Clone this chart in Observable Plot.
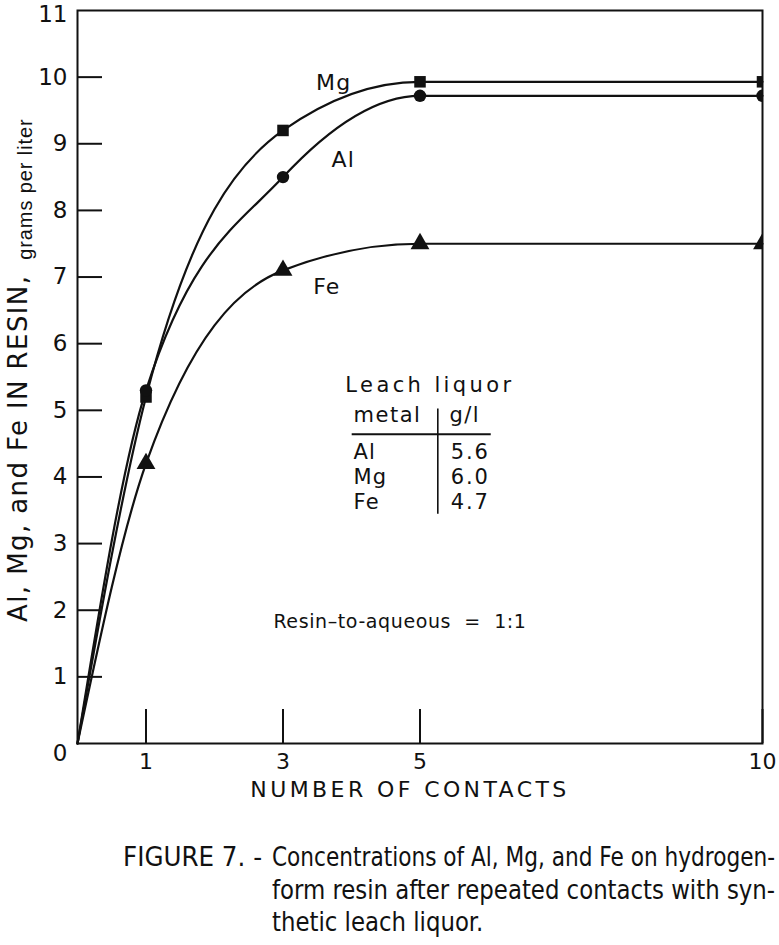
<!DOCTYPE html>
<html>
<head>
<meta charset="utf-8">
<script src="https://cdn.jsdelivr.net/npm/d3@7"></script>
<script src="https://cdn.jsdelivr.net/npm/@observablehq/plot@0.6"></script>
<style>
  html, body { margin: 0; padding: 0; background: #fff; }
  #page { position: relative; width: 779px; height: 945px; overflow: hidden; background: #fff; }
  #chart { position: absolute; left: 0; top: 0; }
  .cap { position: absolute; white-space: nowrap; font-family: "Liberation Sans Narrow", "DejaVu Sans Condensed", "Liberation Sans", sans-serif; font-size: 26px; line-height: 32px; color: #111; transform-origin: 0 50%; }
</style>
</head>
<body>
<div id="page"><div id="chart"></div></div>
<script>
// ---- data ----
const contacts = [0, 1, 3, 5, 10];
const mgValues = [0, 5.2, 9.2, 9.93, 9.93];
const alValues = [0, 5.3, 8.5, 9.72, 9.72];
const feValues = [0, 4.2, 7.1, 7.5, 7.5];
const seriesNames = ["Mg", "Al", "Fe"];
const xTicks = [1, 3, 5, 10];
const yTicks = [1, 2, 3, 4, 5, 6, 7, 8, 9, 10];
const yTop = 11;
const tableMetals = ["Al", "Mg", "Fe"];
const tableConc = [5.6, 6.0, 4.7];
const yLabel = "Al, Mg, and Fe IN RESIN,";
const yLabelUnit = "grams per liter";
const xLabel = "NUMBER OF CONTACTS";
const ratioNote = "Resin\u2013to-aqueous  =  1:1";
const captionLead = "FIGURE 7. -";
const captionLines = [
  "Concentrations of Al, Mg, and Fe on hydrogen-",
  "form resin after repeated contacts with syn-",
  "thetic leach liquor."
];

// ---- derived tables ----
const valuesBy = {Mg: mgValues, Al: alValues, Fe: feValues};
const rows = seriesNames.flatMap(name => contacts.map((c, i) => ({metal: name, x: c, y: valuesBy[name][i]})));
const pts = rows.filter(d => d.x > 0);
const tableRows = tableMetals.map((m, i) => ({metal: m, conc: tableConc[i].toFixed(1), i}));

const font = "DejaVu Sans";
const plot = Plot.plot({
  width: 779,
  height: 810,
  marginLeft: 77,
  marginRight: 17,
  marginTop: 10,
  marginBottom: 67,
  style: {fontFamily: font, fontSize: "22px", background: "#fff", color: "#111", overflow: "visible"},
  x: {domain: [0, 10]},
  y: {domain: [0, yTop]},
  marks: [
    Plot.frame({stroke: "#111", strokeWidth: 2}),
    Plot.axisY(yTicks, {tickSize: -25, tickPadding: 35, strokeWidth: 2, fontSize: 23, tickFormat: d => String(d), label: null}),
    Plot.axisX(xTicks, {tickSize: -34, tickPadding: 44, strokeWidth: 2, fontSize: 22, tickFormat: d => String(d), label: null}),
    Plot.text(["0"], {x: 0, y: 0, text: d => d, textAnchor: "end", dx: -10, dy: 10, fontSize: 23}),
    Plot.text([String(yTop)], {x: 0, y: yTop, text: d => d, textAnchor: "end", dx: -10, dy: 4, fontSize: 23}),
    Plot.line(rows, {x: "x", y: "y", z: "metal", curve: "monotone-x", stroke: "#111", strokeWidth: 2.2}),
    Plot.dot(pts.filter(d => d.metal === "Mg"), {x: "x", y: "y", symbol: "square", fill: "#111", r: 6.5, clip: true}),
    Plot.dot(pts.filter(d => d.metal === "Al"), {x: "x", y: "y", symbol: "circle", fill: "#111", r: 6.2, clip: true}),
    Plot.dot(pts.filter(d => d.metal === "Fe"), {x: "x", y: "y", symbol: "triangle", fill: "#111", r: 7, clip: true}),
    // series labels
    Plot.text(seriesNames, {x: [3.74, 3.88, 3.64], y: [9.92, 8.75, 6.85], text: d => d, fontSize: 22}),
    // leach liquor table
    Plot.text(["Leach liquor"], {x: 3.91, y: 5.37, text: d => d, textAnchor: "start", fontSize: 21}),
    Plot.text(["metal"], {x: 4.03, y: 4.92, text: d => d, textAnchor: "start", fontSize: 21}),
    Plot.text(["g/l"], {x: 5.43, y: 4.92, text: d => d, textAnchor: "start", fontSize: 21}),
    Plot.ruleY([4.64], {x1: 4.01, x2: 6.04, stroke: "#111", strokeWidth: 2}),
    Plot.ruleX([5.26], {y1: 3.44, y2: 5.02, stroke: "#111", strokeWidth: 1.6}),
    Plot.text(tableRows, {x: 4.03, y: d => 4.37 - d.i * 0.375, text: "metal", textAnchor: "start", fontSize: 21}),
    Plot.text(tableRows, {x: 5.45, y: d => 4.37 - d.i * 0.375, text: "conc", textAnchor: "start", fontSize: 21}),
    Plot.text([ratioNote], {x: 2.86, y: 1.83, text: d => d, textAnchor: "start", fontSize: 19}),
    // axis labels
    Plot.text([yLabel], {frameAnchor: "left", y: 4.43, text: d => d, rotate: -90, textAnchor: "middle", dx: -59, fontSize: 26}),
    Plot.text([yLabelUnit], {frameAnchor: "left", y: 8.32, text: d => d, rotate: -90, textAnchor: "middle", dx: -52, fontSize: 20, fontFamily: "Liberation Sans"}),
    Plot.text([xLabel], {frameAnchor: "bottom", textAnchor: "middle", dx: -10, dy: 53, text: d => d, fontSize: 22})
  ]
});
document.getElementById("chart").appendChild(plot);

const spacing = new Map([
  ["Leach liquor", 3.4], ["metal", 1.5], ["g/l", 1.5],
  ["Al", 1.2], ["Mg", 1.2], ["Fe", 1.2], ["5.6", 1.8], ["6.0", 1.8], ["4.7", 1.8],
  [ratioNote, 0.6], [yLabel, 1.4], [yLabelUnit, 0.9], [xLabel, 3.4]
]);
d3.select(plot).selectAll("text").each(function() {
  const t = this.textContent;
  if (spacing.has(t)) this.setAttribute("letter-spacing", spacing.get(t));
});

// ---- caption ----
const page = document.getElementById("page");
function capSpan(text, left, top) {
  const s = document.createElement("span");
  s.className = "cap";
  s.textContent = text;
  s.style.left = left + "px";
  s.style.top = top + "px";
  page.appendChild(s);
  return s;
}
const lineTops = [841, 874, 906];
const lead = capSpan(captionLead, 123, lineTops[0]);
const spans = captionLines.map((t, i) => capSpan(t, 272, lineTops[i]));
const fit = (el, target) => { const w = el.getBoundingClientRect().width; const k = target / w; el.style.transform = `scaleX(${k})`; return k; };
fit(lead, 139);
fit(spans[0], 503);
const k2 = fit(spans[1], 503);
spans[2].style.transform = `scaleX(${k2})`;
</script>
</body>
</html>
